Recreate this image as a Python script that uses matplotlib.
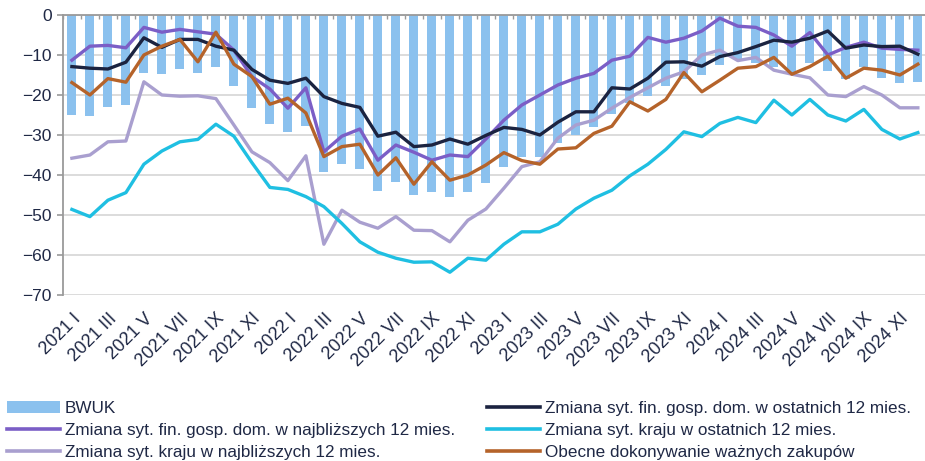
import numpy as np
import matplotlib
matplotlib.use("Agg")
import matplotlib.pyplot as plt
from matplotlib.patches import Patch
from matplotlib.lines import Line2D

plt.rcParams['font.family'] = ['Liberation Sans', 'DejaVu Sans']

# months 2021 I .. 2024 XII
roman = ['I', 'II', 'III', 'IV', 'V', 'VI', 'VII', 'VIII', 'IX', 'X', 'XI', 'XII']
months = [f'{y} {m}' for y in range(2021, 2025) for m in roman]

bwuk = [-25.0, -25.2, -23.1, -22.6, -14.6, -14.8, -13.5, -14.6, -12.9, -17.8, -23.3, -27.3,
        -29.3, -27.8, -39.2, -37.3, -38.5, -43.9, -41.8, -45.0, -44.3, -45.6, -44.2, -41.9,
        -38.0, -35.5, -35.5, -32.0, -30.0, -28.0, -24.8, -22.0, -20.2, -17.8, -16.0, -15.1,
        -12.5, -11.0, -12.0, -13.0, -14.6, -11.9, -13.9, -16.0, -13.0, -15.8, -17.0, -16.7]

fin_next = [-11.3, -7.8, -7.6, -8.2, -3.1, -4.3, -3.6, -4.2, -4.8, -8.8, -15.4, -18.5,
            -23.3, -18.2, -34.2, -30.3, -28.5, -36.3, -32.5, -34.3, -36.3, -35.0, -35.4, -31.0,
            -26.3, -22.5, -20.0, -17.5, -15.8, -14.6, -11.3, -10.3, -5.6, -6.8, -5.8, -4.0,
            -0.8, -2.8, -3.1, -5.0, -7.8, -4.4, -10.0, -8.1, -6.8, -8.3, -8.6, -8.8]

fin_last = [-12.9, -13.3, -13.5, -11.8, -5.7, -8.1, -6.1, -6.1, -7.8, -8.8, -13.6, -16.3,
            -17.1, -15.8, -20.4, -22.1, -23.1, -30.3, -29.3, -32.9, -32.5, -31.0, -32.3, -30.1,
            -28.1, -28.6, -30.0, -26.8, -24.2, -24.2, -18.2, -18.5, -15.8, -11.8, -11.7, -12.8,
            -10.4, -9.4, -7.9, -6.3, -6.8, -5.8, -4.0, -8.3, -7.5, -7.9, -7.8, -9.8]

country_next = [-35.8, -35.0, -31.7, -31.5, -16.7, -20.0, -20.3, -20.2, -20.9, -27.5, -34.2, -36.9,
                -41.4, -35.2, -57.3, -48.8, -51.8, -53.3, -50.4, -53.8, -53.9, -56.7, -51.3, -48.5,
                -43.3, -37.9, -36.7, -30.8, -27.5, -26.3, -23.3, -20.6, -18.2, -15.8, -14.2, -10.0,
                -8.8, -11.4, -10.6, -13.8, -14.8, -15.7, -20.0, -20.4, -17.9, -20.0, -23.2, -23.2]

country_last = [-48.6, -50.4, -46.3, -44.4, -37.3, -34.0, -31.7, -31.1, -27.3, -30.3, -36.9, -43.1,
                -43.6, -45.4, -47.9, -52.1, -56.7, -59.3, -60.8, -61.8, -61.7, -64.3, -60.8, -61.3,
                -57.3, -54.2, -54.2, -52.3, -48.5, -45.8, -43.8, -40.2, -37.3, -33.6, -29.2, -30.4,
                -27.1, -25.6, -26.9, -21.3, -25.0, -21.1, -25.0, -26.5, -23.6, -28.6, -31.0, -29.4]

purchases = [-16.9, -20.0, -15.9, -16.8, -10.0, -7.8, -6.1, -11.7, -4.3, -12.3, -15.4, -22.3,
             -20.8, -24.5, -35.4, -32.9, -32.3, -40.0, -35.7, -42.3, -36.7, -41.3, -40.0, -37.5,
             -34.4, -36.4, -37.3, -33.5, -33.2, -29.6, -27.8, -21.7, -24.0, -21.1, -14.4, -19.2,
             -16.3, -13.3, -12.9, -10.6, -14.8, -12.9, -10.3, -15.8, -13.3, -13.8, -15.0, -12.3]

navy = '#1f2845'
c_bar = '#8bc1ee'
c_fin_next = '#7b5ec6'
c_fin_last = '#1b2340'
c_cnt_next = '#a99fcf'
c_cnt_last = '#1fbfe2'
c_purch = '#b5632a'

fig = plt.figure(figsize=(9.25, 4.61), dpi=100)
ax = fig.add_axes([0.068, 0.36, 0.934, 0.6075])

x = np.arange(len(months))
ax.bar(x, bwuk, width=0.5, color=c_bar, zorder=2)
lw = 2.4
ax.plot(x, fin_next, color=c_fin_next, lw=lw, zorder=3)
ax.plot(x, country_next, color=c_cnt_next, lw=lw, zorder=3)
ax.plot(x, country_last, color=c_cnt_last, lw=lw, zorder=3)
ax.plot(x, purchases, color=c_purch, lw=lw, zorder=4)
ax.plot(x, fin_last, color=c_fin_last, lw=lw, zorder=3.5)

ax.set_xlim(-0.5, len(months) - 0.5)
ax.set_ylim(-70, 0)
ax.set_yticks(range(-70, 1, 10))
ax.yaxis.grid(True, color='#d9d9d9', lw=1.3, zorder=0)
ax.set_axisbelow(True)

for s in ['right', 'bottom']:
    ax.spines[s].set_visible(False)
ax.spines['left'].set_color('#9a9a9a')
ax.spines['left'].set_linewidth(1.3)
ax.spines['top'].set_color('#9a9a9a')
ax.spines['top'].set_linewidth(1.3)

ax.tick_params(axis='y', colors='#9a9a9a', labelcolor=navy, labelsize=12.5,
               length=4, width=1.2, pad=4)

# category labels every second month, at the bottom
ax.set_xticks(x[::2])
ax.set_xticklabels(months[::2], rotation=45, ha='right', rotation_mode='anchor',
                   color=navy, fontsize=13)
ax.tick_params(axis='x', length=0, pad=11)
# small boundary ticks along the zero line at the top
ax.set_xticks(np.arange(-0.5, len(months), 1), minor=True)
ax.tick_params(axis='x', which='minor', top=True, bottom=False, direction='in',
               length=3, width=1, color='#9a9a9a')

h_bar = Patch(facecolor=c_bar, edgecolor='none')
left_handles = [h_bar,
                Line2D([], [], color=c_fin_next, lw=2.6),
                Line2D([], [], color=c_cnt_next, lw=2.6)]
left_labels = ['BWUK',
               'Zmiana syt. fin. gosp. dom. w najbliższych 12 mies.',
               'Zmiana syt. kraju w najbliższych 12 mies.']
right_handles = [Line2D([], [], color=c_fin_last, lw=2.6),
                 Line2D([], [], color=c_cnt_last, lw=2.6),
                 Line2D([], [], color=c_purch, lw=2.6)]
right_labels = ['Zmiana syt. fin. gosp. dom. w ostatnich 12 mies.',
                'Zmiana syt. kraju w ostatnich 12 mies.',
                'Obecne dokonywanie ważnych zakupów']

leg_kw = dict(frameon=False, fontsize=12.3, handlelength=3.05, handletextpad=0.3,
              labelspacing=0.42, borderpad=0, borderaxespad=0, labelcolor=navy)
fig.legend(left_handles, left_labels, loc='upper left',
           bbox_to_anchor=(0.008, 0.13), **leg_kw)
fig.legend(right_handles, right_labels, loc='upper left',
           bbox_to_anchor=(0.527, 0.13), **leg_kw)

fig.savefig('out.png', dpi=100)
